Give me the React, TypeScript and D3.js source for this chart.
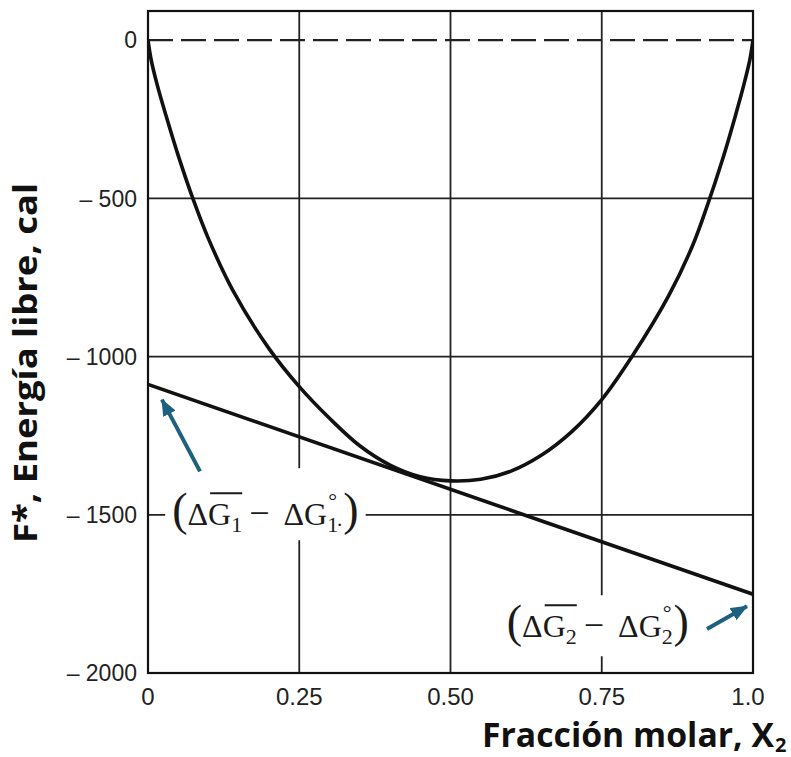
import React, { useRef, useLayoutEffect, useState } from "react";
import * as d3 from "d3";

// ---- data ----
const mixX = [0, 0.005, 0.015, 0.03, 0.05, 0.075, 0.1, 0.14, 0.2, 0.25, 0.3, 0.35, 0.4, 0.45, 0.5, 0.55, 0.6, 0.65, 0.7, 0.75, 0.8, 0.86, 0.9, 0.925, 0.95, 0.97, 0.985, 0.995, 1.0];
const mixF = [0, -60, -140, -240, -365, -505, -628, -790, -975, -1095, -1195, -1282, -1343, -1380, -1393, -1388, -1362, -1312, -1238, -1136, -1000, -810, -650, -520, -375, -245, -140, -60, 0];

const tangentX = [0, 1];
const tangentF = [-1088, -1751];

const xTicks = [0, 0.25, 0.5, 0.75, 1.0];
const xTickLabels = ["0", "0.25", "0.50", "0.75", "1.0"];
const yTicks = [0, -500, -1000, -1500, -2000];
const yTickLabels = ["0", "\u2013 500", "\u2013 1000", "\u2013 1500", "\u2013 2000"];
const xGrid = [0.25, 0.5, 0.75];
const yGrid = [-500, -1000, -1500];

const xTitle = "Fracción molar, X";
const xTitleSub = "2";
const yTitle = "F*, Energía libre, cal";

// annotation labels (anchor in data coords)
const labelIdx = ["1", "2"];
const labelX = [0.04, 0.593];
const labelF = [-1533, -1887];
const labelDot = [true, false];
const labelPadTop = [22, 7];
const labelPadBottom = [7, 11];

// arrows (tail -> tip, data coords)
const arrowX0 = [0.086, 0.924];
const arrowF0 = [-1363, -1861];
const arrowX1 = [0.023, 0.99];
const arrowF1 = [-1136, -1789];

const W = 791;
const H = 757;
const x = d3.scaleLinear().domain([0, 1]).range([148, 753]);
const y = d3.scaleLinear().domain([-2000, 92]).range([673, 11]);

const ARROW = "#1d6080";
const INK = "#111";

function MathLabel({ px, py, idx, dot, padTop, padBottom }) {
  const textRef = useRef(null);
  const gRef = useRef(null);
  const sRef = useRef(null);
  const [bb, setBb] = useState(null);
  const [ol, setOl] = useState(null);
  const fs = 32;
  const ss = 22;
  useLayoutEffect(() => {
    const t = textRef.current;
    if (!t) return;
    const b = t.getBBox();
    setBb({ x: b.x, y: b.y, w: b.width, h: b.height });
    const g = gRef.current.getExtentOfChar(0);
    const s = sRef.current.getExtentOfChar(0);
    setOl({ x1: g.x + 2, x2: s.x + s.width, y: py - fs * 1.0 });
  }, [px, py]);
  return (
    <g>
      {bb && (
        <rect
          x={bb.x - 7}
          y={py - 35 - padTop}
          width={bb.w + 14}
          height={35 + padTop + 8 + padBottom}
          fill="#fff"
        />
      )}
      <text
        ref={textRef}
        x={px}
        y={py}
        fontFamily="'Liberation Serif', 'DejaVu Serif', serif"
        fontSize={fs}
        fill="#1a1a1a"
      >
        <tspan fontSize={46}>(</tspan>
        <tspan>Δ</tspan>
        <tspan ref={gRef}>G</tspan>
        <tspan ref={sRef} fontSize={ss} dy={7}>{idx}</tspan>
        <tspan dx={7} dy={-7} fontSize={36}>−</tspan>
        <tspan dx={14}>Δ</tspan>
        <tspan>G</tspan>
        <tspan fontSize={ss} dy={7}>{idx}</tspan>
        <tspan fontSize={ss} dx={-10} dy={-24}>°</tspan>
        {dot ? (
          <>
            <tspan fontSize={ss} dx={-1} dy={24}>·</tspan>
            <tspan fontSize={46} dy={-7}>)</tspan>
          </>
        ) : (
          <tspan fontSize={46} dx={2} dy={17}>)</tspan>
        )}
      </text>
      {ol && (
        <line x1={ol.x1} x2={ol.x2} y1={ol.y} y2={ol.y} stroke="#1a1a1a" strokeWidth={2} />
      )}
    </g>
  );
}

export default function App() {
  const mixData = mixX.map((v, i) => [v, mixF[i]]);
  const tanData = tangentX.map((v, i) => [v, tangentF[i]]);
  const curveGen = d3
    .line()
    .x((d) => x(d[0]))
    .y((d) => y(d[1]))
    .curve(d3.curveCatmullRom.alpha(0.5));
  const lineGen = d3
    .line()
    .x((d) => x(d[0]))
    .y((d) => y(d[1]));

  const [x0, x1] = x.range();
  const [yb, yt] = y.range();

  return (
    <svg
      width={W}
      height={H}
      style={{ position: "absolute", left: 0, top: 0, background: "#fff" }}
    >
      <defs>
        <marker
          id="ah"
          markerUnits="userSpaceOnUse"
          markerWidth={18}
          markerHeight={14}
          refX={16}
          refY={7}
          orient="auto"
        >
          <path d="M0,0 L17,7 L0,14 Z" fill={ARROW} />
        </marker>
        <clipPath id="plotclip">
          <rect x={x0} y={yt} width={x1 - x0} height={yb - yt} />
        </clipPath>
      </defs>
      <rect x={0} y={0} width={W} height={H} fill="#fff" />

      {/* grid */}
      {xGrid.map((v) => (
        <line key={"xg" + v} x1={x(v)} x2={x(v)} y1={yt} y2={yb} stroke="#222" strokeWidth={1.8} />
      ))}
      {yGrid.map((v) => (
        <line key={"yg" + v} x1={x0} x2={x1} y1={y(v)} y2={y(v)} stroke="#222" strokeWidth={1.8} />
      ))}
      <line
        x1={x0}
        x2={x1}
        y1={y(0)}
        y2={y(0)}
        stroke="#222"
        strokeWidth={2.4}
        strokeDasharray="25 8"
      />

      {/* label backgrounds + labels */}
      {labelIdx.map((idx, i) => (
        <MathLabel
          key={"lab" + idx}
          px={x(labelX[i])}
          py={y(labelF[i])}
          idx={idx}
          dot={labelDot[i]}
          padTop={labelPadTop[i]}
          padBottom={labelPadBottom[i]}
        />
      ))}

      {/* curves */}
      <g clipPath="url(#plotclip)">
        <path d={curveGen(mixData)} fill="none" stroke={INK} strokeWidth={3.6} strokeLinejoin="round" />
        <path d={lineGen(tanData)} fill="none" stroke={INK} strokeWidth={3.6} />
      </g>

      {/* frame */}
      <rect x={x0} y={yt} width={x1 - x0} height={yb - yt} fill="none" stroke={INK} strokeWidth={2.2} />

      {/* arrows */}
      {arrowX0.map((v, i) => (
        <line
          key={"ar" + i}
          x1={x(v)}
          y1={y(arrowF0[i])}
          x2={x(arrowX1[i])}
          y2={y(arrowF1[i])}
          stroke={ARROW}
          strokeWidth={4}
          markerEnd="url(#ah)"
        />
      ))}

      {/* y tick labels */}
      {yTicks.map((v, i) => (
        <text
          key={"yt" + v}
          x={137}
          y={y(v)}
          dy="0.36em"
          textAnchor="end"
          fontFamily="'Liberation Sans', Arial, sans-serif"
          fontSize={23}
          fill="#222"
        >
          {yTickLabels[i]}
        </text>
      ))}

      {/* x tick labels */}
      {xTicks.map((v, i) => (
        <text
          key={"xt" + v}
          x={x(v) + (i === 4 ? -5 : 0)}
          y={705}
          textAnchor="middle"
          fontFamily="'Liberation Sans', Arial, sans-serif"
          fontSize={24}
          fill="#222"
        >
          {xTickLabels[i]}
        </text>
      ))}

      {/* axis titles */}
      <text
        x={482}
        y={747}
        fontFamily="'Open Sans', 'Liberation Sans', sans-serif"
        fontWeight={700}
        fontSize={34}
        fill="#111"
        textLength={292}
        lengthAdjust="spacingAndGlyphs"
      >
        {xTitle}
      </text>
      <text
        x={775}
        y={752}
        fontFamily="'Open Sans', 'Liberation Sans', sans-serif"
        fontWeight={700}
        fontSize={20}
        fill="#111"
      >
        {xTitleSub}
      </text>
      <text
        transform="translate(37,543) rotate(-90)"
        x={0}
        y={0}
        fontFamily="'Open Sans', 'Liberation Sans', sans-serif"
        fontWeight={700}
        fontSize={32}
        fill="#111"
        textLength={360}
        lengthAdjust="spacingAndGlyphs"
      >
        {yTitle}
      </text>
    </svg>
  );
}
